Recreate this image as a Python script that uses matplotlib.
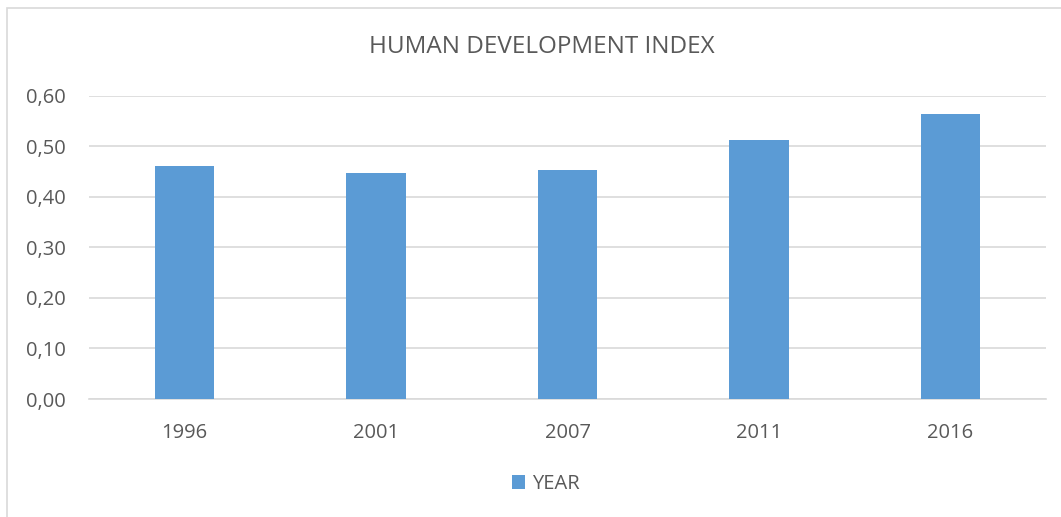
import matplotlib.pyplot as plt
from matplotlib.patches import Rectangle
from matplotlib.ticker import FuncFormatter

years = ['1996', '2001', '2007', '2011', '2016']
hdi = [0.460, 0.447, 0.454, 0.512, 0.564]
y_ticks = [0.0, 0.1, 0.2, 0.3, 0.4, 0.5, 0.6]

bar_color = '#5B9BD5'
text_color = '#595959'
grid_color = '#D9D9D9'

plt.rcParams['font.family'] = ['Open Sans', 'DejaVu Sans']

fig = plt.figure(figsize=(10.61, 5.17), dpi=100)
ax = fig.add_axes([89 / 1061, 1 - 399 / 517, (1046 - 89) / 1061, (399 - 95.7) / 517])

# chart area border
fig.patches.append(Rectangle((7 / 1061, -0.1), 1.2, 1 - 8 / 517 + 0.1,
                             transform=fig.transFigure, fill=False,
                             edgecolor=grid_color, linewidth=1.2))

x = range(len(years))
ax.bar(x, hdi, width=0.31, color=bar_color, label='YEAR', zorder=3)

ax.set_xlim(-0.5, len(years) - 0.5)
ax.set_ylim(0, 0.6)
ax.set_yticks(y_ticks)
ax.yaxis.set_major_formatter(FuncFormatter(lambda v, p: f'{v:.2f}'.replace('.', ',')))
ax.set_xticks(list(x))
ax.set_xticklabels(years)
ax.grid(axis='y', color=grid_color, linewidth=1.2, zorder=0)
ax.tick_params(axis='both', length=0, labelsize=14.5, colors=text_color)
ax.tick_params(axis='x', pad=17)
ax.tick_params(axis='y', pad=16.5)
for s in ['top', 'right', 'left']:
    ax.spines[s].set_visible(False)
ax.spines['bottom'].set_color(grid_color)
ax.spines['bottom'].set_linewidth(1.2)

fig.text(541.7 / 1061, 1 - 53.3 / 517, 'HUMAN DEVELOPMENT INDEX', ha='center', va='baseline',
         fontsize=17.5, color=text_color)

ax.legend(loc='center', bbox_to_anchor=((545.5 - 89) / 957, (399 - 484) / (399 - 95.7)),
          frameon=False, fontsize=14.5, labelcolor=text_color, handlelength=0.65,
          handleheight=0.65, handletextpad=0.35)

fig.savefig('out.png', dpi=100, facecolor='white')
